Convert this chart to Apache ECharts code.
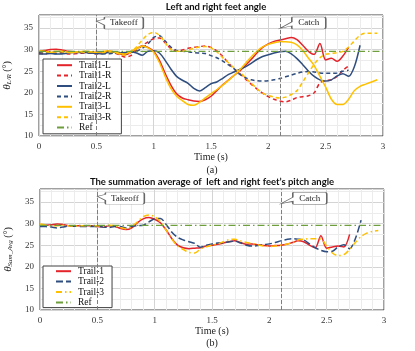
<!DOCTYPE html>
<html lang="en">
<head>
    <meta charset="UTF-8">
    <title>Feet angle</title>
    <script src="https://cdn.jsdelivr.net/npm/echarts@6/dist/echarts.min.js"></script>
</head>
<body style="margin:0; background:#fff;">
    <div id="main" style="width:415px; height:351px;"></div>

<script>
    // time base (s), sampled every 0.05 s
    var t = [0, 0.05, 0.1, 0.15, 0.2, 0.25, 0.3, 0.35, 0.4, 0.45,
             0.5, 0.55, 0.6, 0.65, 0.7, 0.75, 0.8, 0.85, 0.9, 0.95,
             1.0, 1.05, 1.1, 1.15, 1.2, 1.25, 1.3, 1.35, 1.4, 1.45,
             1.5, 1.55, 1.6, 1.65, 1.7, 1.75, 1.8, 1.85, 1.9, 1.95,
             2.0, 2.05, 2.1, 2.15, 2.2, 2.25, 2.3, 2.35, 2.4, 2.45,
             2.5, 2.55, 2.6, 2.65, 2.7, 2.75, 2.8, 2.85, 2.9, 2.95];

    // (a) left / right feet angle
    var trail1L = [29.6, 29.8, 30.0, 30.1, 29.9, 29.6, 29.5, 29.5, 29.4, 29.4,
                   29.3, 29.2, 29.6, 29.5, 29.0, 28.8, 29.3, 30.2, 30.8, 30.5,
                   29.6, 27.5, 24.5, 21.8, 19.8, 18.8, 18.4, 18.1, 18.0, 18.4,
                   19.2, 20.5, 21.8, 22.9, 24.0, 25.0, 26.3, 27.7, 29.2, 30.5,
                   31.3, 31.9, 32.2, 32.5, 32.8, 32.3, 31.0, 29.6, 28.9, 31.4,
                   27.6, 28.0, 27.3, 28.5, 30.5];
    var trail1R = [29.2, 29.0, 29.4, 29.5, 29.2, 29.0, 29.0, 29.1, 29.2, 29.2,
                   29.0, 29.2, 29.4, 29.3, 28.8, 28.3, 28.6, 29.8, 30.9, 31.8,
                   32.5, 32.7, 31.6, 30.2, 29.7, 29.9, 30.3, 30.5, 30.7, 30.8,
                   30.5, 29.7, 28.5, 27.0, 25.6, 24.5, 23.2, 22.0, 20.9, 19.9,
                   19.1, 18.5, 18.1, 17.9, 18.3, 18.9, 19.1, 19.3, 20.0, 22.3,
                   22.8, 23.0, 23.8, 25.2, 26.2];
    var trail2L = [29.0, 29.0, 29.1, 29.0, 29.0, 29.2, 29.3, 29.3, 29.3, 29.2,
                   29.1, 29.0, 29.3, 29.4, 29.2, 29.3, 29.5, 29.2, 28.7, 29.6,
                   29.7, 29.2, 27.5, 25.5, 23.8, 22.9, 22.2, 21.0, 20.4, 21.2,
                   22.1, 22.5, 23.3, 24.2, 24.8, 25.4, 26.0, 26.8, 27.7, 28.4,
                   28.8, 29.2, 29.5, 29.6, 29.0, 27.9, 26.5, 25.0, 23.8, 23.0,
                   22.7, 23.0, 23.9, 24.4, 23.8, 26.0, 31.0];
    var trail2R = [29.3, 29.3, 29.2, 29.1, 29.2, 29.3, 29.4, 29.3, 29.3, 29.2,
                   29.3, 29.1, 29.0, 29.2, 29.3, 29.1, 29.4, 29.6, 30.3, 31.3,
                   32.8, 33.2, 32.0, 30.6, 29.8, 29.6, 29.5, 29.3, 29.2, 29.1,
                   28.6, 28.1, 27.4, 26.5, 25.6, 24.3, 23.5, 23.0, 22.8, 22.7,
                   22.8, 23.0, 23.3, 23.7, 24.1, 24.5, 24.8, 24.9, 24.8, 24.6,
                   24.5, 24.5, 24.6, 25.0, 25.2];
    var trail3L = [29.8, 29.6, 29.4, 29.5, 29.6, 29.4, 29.3, 29.5, 29.6, 29.5,
                   29.4, 29.5, 29.7, 29.5, 29.1, 29.0, 29.6, 30.2, 30.8, 30.4,
                   29.4, 27.0, 23.8, 21.0, 19.2, 18.2, 17.3, 17.1, 17.8, 18.8,
                   19.8, 20.7, 21.7, 22.8, 24.0, 25.3, 26.8, 28.3, 29.6, 30.6,
                   31.2, 31.6, 31.8, 31.8, 31.7, 31.1, 29.8, 28.0, 26.3, 23.8,
                   21.3, 18.5, 17.3, 17.3, 18.5, 20.5, 21.5, 22.0, 22.5, 23.0];
    var trail3R = [29.6, 29.5, 29.5, 29.6, 29.5, 29.3, 29.4, 29.5, 29.4, 29.5,
                   29.6, 29.3, 29.4, 29.5, 29.0, 28.7, 29.4, 30.6, 32.2, 33.5,
                   34.0, 33.3, 31.6, 30.0, 29.6, 29.6, 29.9, 30.3, 30.6, 30.7,
                   30.4, 29.5, 28.2, 27.0, 25.8, 24.8, 23.5, 22.2, 21.0, 19.9,
                   19.4, 19.0, 18.8, 19.0, 19.6, 20.5, 22.5, 24.6, 26.6, 28.1,
                   28.9, 29.1, 29.3, 29.6, 30.6, 32.0, 33.3, 33.8, 33.8, 33.8];

    // (b) summation average
    var avg1 = [29.4, 29.6, 29.7, 29.9, 29.8, 29.5, 29.5, 29.5, 29.5, 29.5,
                29.3, 29.2, 29.5, 29.4, 28.9, 28.6, 29.0, 30.2, 31.1, 31.4,
                31.0, 30.2, 28.5, 26.5, 25.0, 24.4, 24.2, 24.3, 24.4, 24.8,
                25.0, 25.2, 25.5, 25.8, 26.0, 25.6, 25.2, 25.3, 25.1, 24.9,
                24.8, 24.9, 25.0, 25.2, 25.6, 26.0, 25.8, 25.0, 24.4, 27.2,
                24.3, 24.6, 24.8, 24.6, 27.5];
    var avg2 = [29.3, 29.3, 29.2, 29.0, 29.2, 29.4, 29.4, 29.3, 29.3, 29.3,
                29.3, 29.2, 29.1, 29.3, 29.3, 29.0, 29.3, 29.5, 29.6, 30.4,
                31.1, 31.2, 29.8, 28.0, 26.8, 26.2, 25.8, 25.4, 24.5, 25.0,
                25.3, 25.5, 25.6, 25.8, 25.9, 25.5, 25.0, 24.8, 24.9, 25.1,
                25.3, 25.6, 26.0, 26.3, 26.5, 26.4, 26.2, 25.3, 24.4, 23.8,
                23.5, 23.6, 24.6, 25.1, 24.2, 26.5, 30.8];
    var avg3 = [29.9, 29.7, 29.5, 29.5, 29.6, 29.5, 29.4, 29.5, 29.5, 29.5,
                29.5, 29.4, 29.6, 29.5, 29.1, 28.8, 29.3, 30.4, 31.6, 32.0,
                31.6, 30.4, 28.5, 26.4, 24.8, 24.0, 23.3, 23.2, 24.1, 24.6,
                25.0, 25.3, 25.8, 26.3, 26.4, 26.0, 25.6, 25.4, 25.1, 24.8,
                24.7, 24.8, 25.0, 25.2, 25.6, 26.2, 26.4, 26.5, 26.5, 26.4,
                24.8, 23.2, 22.6, 22.8, 24.0, 25.6, 27.0, 27.8, 28.2, 28.4];

    var refT = [0, 3];
    var refV = [29.6, 29.6];

    var eventNames = ['Takeoff', 'Catch'];
    var eventTimes = [0.5, 2.1];

    var RED = '#e3242b', BLUE = '#2f4d7e', YELLOW = '#ffc000', GREEN = '#6f9e3c';
    var SERIF = '"Liberation Serif", "DejaVu Serif", serif';

    function pairs(vals) {
        var out = [];
        for (var i = 0; i < vals.length; i++) out.push([t[i], vals[i]]);
        return out;
    }
    function refPairs() {
        return refT.map(function (x, i) { return [x, refV[i]]; });
    }

    // callout bubbles: box with a little pointer on the left
    var takeoffPath = 'path://M9,0 H45 Q47,0 47,2 V10 Q47,12 45,12 H9 Q8,12 8,11 V8 L0,4 L8,2 V1 Q8,0 9,0 Z';
    var catchPath = 'path://M13,0 H44 Q46,0 46,2 V10 Q46,12 44,12 H13 Q12,12 12,11 V9 L0,11.5 L12,5 V1 Q12,0 13,0 Z';

    function callouts(yVal) {
        return [
            { coord: [eventTimes[0], yVal], symbol: takeoffPath, symbolSize: [47, 12], symbolOffset: [23.5, 2],
              label: { formatter: eventNames[0], offset: [4, 0] } },
            { coord: [eventTimes[1], yVal - 0.9], symbol: catchPath, symbolSize: [46, 12], symbolOffset: [23, -2],
              label: { formatter: eventNames[1], offset: [6, 0] } }
        ];
    }

    function refSeries(idx, yVal) {
        return {
            name: 'Ref', type: 'line', xAxisIndex: idx, yAxisIndex: idx,
            data: refPairs(), symbol: 'none',
            lineStyle: { color: GREEN, width: 1.3, type: [7, 3, 1.5, 3] },
            itemStyle: { color: GREEN },
            markLine: {
                silent: true, symbol: 'none', label: { show: false },
                lineStyle: { color: '#7f7f7f', type: [4, 2], width: 1 },
                data: eventTimes.map(function (x) { return { xAxis: x }; })
            },
            markPoint: {
                silent: true,
                itemStyle: { color: '#fff', borderColor: '#666', borderWidth: 0.8 },
                label: { show: true, position: 'inside', color: '#222', fontFamily: SERIF, fontSize: 9 },
                data: callouts(yVal)
            }
        };
    }

    function line(name, idx, vals, color, dash) {
        return {
            name: name, type: 'line', xAxisIndex: idx, yAxisIndex: idx,
            data: pairs(vals), symbol: 'none', smooth: 0.3,
            lineStyle: { color: color, width: 1.5, type: dash || 'solid' },
            itemStyle: { color: color }
        };
    }

    function xAxis(idx) {
        return {
            type: 'value', gridIndex: idx, min: 0, max: 3, interval: 0.5,
            name: 'Time (s)', nameLocation: 'middle', nameGap: 16,
            nameTextStyle: { fontFamily: SERIF, fontSize: 10, color: '#222' },
            axisLine: { show: false }, axisTick: { show: false },
            axisLabel: { fontFamily: SERIF, fontSize: 9, color: '#333', margin: 6 },
            splitLine: { show: true, lineStyle: { color: '#d4d4d4', width: 1 } },
            minorTick: { show: false, splitNumber: 5 },
            minorSplitLine: { show: true, lineStyle: { color: '#ececec', width: 1 } }
        };
    }

    function yAxis(idx, sub) {
        return {
            type: 'value', gridIndex: idx, min: 10, max: 38, interval: 5,
            name: '{t|θ}{s|' + sub + '} (°)', nameLocation: 'middle', nameGap: 22, nameRotate: 90,
            nameTextStyle: {
                fontFamily: SERIF, fontSize: 10, color: '#222',
                rich: {
                    t: { fontFamily: SERIF, fontSize: 11, fontStyle: 'italic', color: '#222' },
                    s: { fontFamily: SERIF, fontSize: 7, fontStyle: 'italic', color: '#222', verticalAlign: 'bottom', padding: [5, 0, 0, 0] }
                }
            },
            axisLine: { show: false }, axisTick: { show: false },
            axisLabel: { fontFamily: SERIF, fontSize: 9, color: '#333', margin: 6, showMaxLabel: false },
            splitLine: { show: true, lineStyle: { color: '#d4d4d4', width: 1 } },
            minorTick: { show: false, splitNumber: 2 },
            minorSplitLine: { show: true, lineStyle: { color: '#ececec', width: 1 } }
        };
    }

    var legendText = { fontFamily: SERIF, fontSize: 9.5, color: '#111', lineHeight: 10.4, padding: [0, 0, 0, 2] };

    var myChart = echarts.init(document.getElementById('main'), null, { renderer: 'canvas' });
    myChart.setOption({
        animation: false,
        backgroundColor: '#fff',
        graphic: [
            { type: 'text', style: { text: 'Left and right feet angle', x: 216, y: 7, textAlign: 'center', textVerticalAlign: 'middle', font: 'bold 9.5px Lato, "DejaVu Sans", sans-serif', fill: '#111' } },
            { type: 'text', style: { text: '(a)', x: 212, y: 170, textAlign: 'center', textVerticalAlign: 'middle', font: '10px ' + SERIF, fill: '#222' } },
            { type: 'text', style: { text: 'The summation average of  left and right feet\u2019s pitch angle', x: 212, y: 182, textAlign: 'center', textVerticalAlign: 'middle', font: 'bold 9.5px Lato, "DejaVu Sans", sans-serif', fill: '#111' } },
            { type: 'text', style: { text: '(b)', x: 212, y: 343, textAlign: 'center', textVerticalAlign: 'middle', font: '10px ' + SERIF, fill: '#222' } }
        ],
        grid: [
            { left: 39, right: 32, top: 15, height: 121, outerBoundsMode: 'none', show: true, backgroundColor: '#fff', borderColor: '#404040', borderWidth: 1 },
            { left: 40, right: 31, top: 189, height: 121, outerBoundsMode: 'none', show: true, backgroundColor: '#fff', borderColor: '#404040', borderWidth: 1 }
        ],
        legend: [
            {
                data: ['Trail1-L', 'Trail1-R', 'Trail2-L', 'Trail2-R', 'Trail3-L', 'Trail3-R', 'Ref'],
                orient: 'vertical', left: 43, top: 59, itemWidth: 15, itemHeight: 8, itemGap: 0,
                padding: [1, 10, 1, 13], backgroundColor: '#fff', borderColor: '#404040', borderWidth: 1,
                borderRadius: 0, textStyle: legendText, itemStyle: { opacity: 0 }
            },
            {
                data: ['Trail-1', 'Trail-2', 'Trail-3', 'Ref'],
                orient: 'vertical', left: 43, top: 266, itemWidth: 15, itemHeight: 8, itemGap: 0,
                padding: [0, 8, 0, 12], backgroundColor: '#fff', borderColor: '#404040', borderWidth: 1,
                borderRadius: 0, textStyle: legendText, itemStyle: { opacity: 0 }
            }
        ],
        xAxis: [xAxis(0), xAxis(1)],
        yAxis: [yAxis(0, 'L/R'), yAxis(1, 'Sum_Avg')],
        series: [
            line('Trail1-L', 0, trail1L, RED),
            line('Trail1-R', 0, trail1R, RED, [4, 3]),
            line('Trail2-L', 0, trail2L, BLUE),
            line('Trail2-R', 0, trail2R, BLUE, [4, 3]),
            line('Trail3-L', 0, trail3L, YELLOW),
            line('Trail3-R', 0, trail3R, YELLOW, [4, 3]),
            refSeries(0, 36.6),
            line('Trail-1', 1, avg1, RED),
            line('Trail-2', 1, avg2, BLUE, [7, 3]),
            line('Trail-3', 1, avg3, YELLOW, [6, 3, 1.5, 3]),
            refSeries(1, 36.3)
        ]
    });
</script>
</body>
</html>
